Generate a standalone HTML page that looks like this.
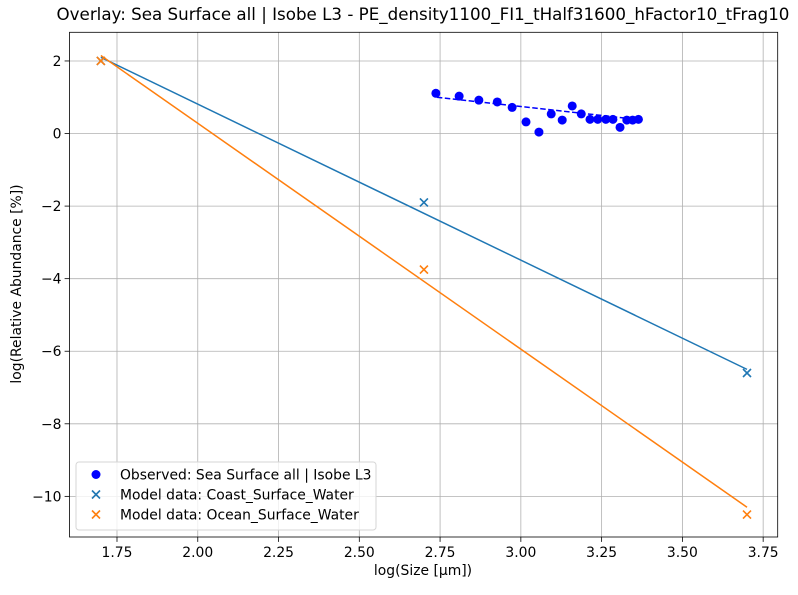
<!DOCTYPE html>
<html><head><meta charset="utf-8"><style>
body{margin:0;background:#fff}
svg text{font-family:"DejaVu Sans","Liberation Sans",sans-serif;fill:#000}
.t{font-family:"DejaVu Sans","Liberation Sans",sans-serif}
</style></head><body>
<svg id="c" width="798" height="590" xmlns="http://www.w3.org/2000/svg"></svg>
<script>
const obsX=[2.737,2.809,2.870,2.927,2.973,3.016,3.056,3.094,3.128,3.159,3.187,3.214,3.238,3.263,3.285,3.307,3.328,3.346,3.364];
const obsY=[1.11,1.03,0.92,0.87,0.72,0.32,0.04,0.54,0.37,0.76,0.54,0.39,0.39,0.39,0.39,0.17,0.37,0.37,0.39];
const obsFitX=[2.74,3.37];
const obsFitY=[1.0,0.38];
const modelX=[1.7,2.7,3.7];
const coastY=[2.0,-1.9,-6.6];
const oceanY=[2.0,-3.75,-10.5];
const coastFitY=[2.1,-6.5];
const oceanFitY=[2.15,-10.3];
const fitX=[1.7,3.7];
const xTicks=[1.75,2.00,2.25,2.50,2.75,3.00,3.25,3.50,3.75];
const xTickLabels=["1.75","2.00","2.25","2.50","2.75","3.00","3.25","3.50","3.75"];
const yTicks=[2,0,-2,-4,-6,-8,-10];
const yTickLabels=["2","0","−2","−4","−6","−8","−10"];

const L=69.5,R=777.7,T=32.3,B=537;
const xmin=1.603,xmax=3.795,ymin=-11.12,ymax=2.79;
const sx=v=>L+(v-xmin)/(xmax-xmin)*(R-L);
const sy=v=>B-(v-ymin)/(ymax-ymin)*(B-T);
const svg=document.getElementById('c');
const NS='http://www.w3.org/2000/svg';
function mk(tag,attrs,parent){const e=document.createElementNS(NS,tag);for(const k in attrs)e.setAttribute(k,attrs[k]);(parent||svg).appendChild(e);return e;}

const grid=mk('g',{});


xTicks.forEach(t=>{mk('line',{x1:sx(t),x2:sx(t),y1:T,y2:B,stroke:'#b0b0b0','stroke-width':0.8},grid);});
yTicks.forEach(t=>{mk('line',{x1:L,x2:R,y1:sy(t),y2:sy(t),stroke:'#b0b0b0','stroke-width':0.8},grid);});

const xax=mk('g',{});


xTicks.forEach((t,i)=>{mk('line',{x1:sx(t),x2:sx(t),y1:B,y2:B+4.9,stroke:'#000','stroke-width':0.8},xax);
 const tx=mk('text',{x:sx(t),y:B+20,'font-size':13.9,'text-anchor':'middle'},xax);tx.textContent=xTickLabels[i];});
const yax=mk('g',{});


yTicks.forEach((t,i)=>{mk('line',{x1:L-4.9,x2:L,y1:sy(t),y2:sy(t),stroke:'#000','stroke-width':0.8},yax);
 const tx=mk('text',{x:L-8,y:sy(t)+5,'font-size':13.9,'text-anchor':'end'},yax);tx.textContent=yTickLabels[i];});

const clip=mk('clipPath',{id:'pc'});mk('rect',{x:L,y:T,width:R-L,height:B-T},clip);
const plot=mk('g',{'clip-path':'url(#pc)'});



const cf=mk('line',{x1:sx(fitX[0]),y1:sy(coastFitY[0]),x2:sx(fitX[1]),y2:sy(coastFitY[1]),stroke:'#1f77b4','stroke-width':1.5},plot);


const of=mk('line',{x1:sx(fitX[0]),y1:sy(oceanFitY[0]),x2:sx(fitX[1]),y2:sy(oceanFitY[1]),stroke:'#ff7f0e','stroke-width':1.5},plot);



obsX.forEach((x,i)=>{const c=mk('circle',{cx:sx(x),cy:sy(obsY[i]),r:4.5,fill:'#0000ff'},plot);
 
 });
const ofl=mk('line',{x1:sx(obsFitX[0]),y1:sy(obsFitY[0]),x2:sx(obsFitX[1]),y2:sy(obsFitY[1]),stroke:'#0000ff','stroke-width':1.5,'stroke-dasharray':'5.5,2.5'},plot);



function cross(x,y,col,p){const g=mk('g',{stroke:col,'stroke-width':1.6},p);
 mk('line',{x1:x-4,y1:y-4,x2:x+4,y2:y+4},g);mk('line',{x1:x-4,y1:y+4,x2:x+4,y2:y-4},g);return g;}
modelX.forEach((x,i)=>{const g=cross(sx(x),sy(coastY[i]),'#1f77b4',plot);
 
 });
modelX.forEach((x,i)=>{const g=cross(sx(x),sy(oceanY[i]),'#ff7f0e',plot);
 
 });

const fr=mk('rect',{x:L,y:T,width:R-L,height:B-T,fill:'none',stroke:'#000','stroke-width':0.8});



const lg=mk('g',{});


mk('rect',{x:76,y:462,width:300,height:68,rx:3,fill:'#fff','fill-opacity':0.8,stroke:'#d6d6d6'},lg);
mk('circle',{cx:96,cy:474.5,r:4.5,fill:'#0000ff'},lg);
cross(96,494.5,'#1f77b4',lg);cross(96,514.5,'#ff7f0e',lg);
[["Observed: Sea Surface all | Isobe L3",474.5],["Model data: Coast_Surface_Water",494.5],["Model data: Ocean_Surface_Water",514.5]].forEach(([t,y])=>{
 const tx=mk('text',{x:120,y:y+5,'font-size':13.9},lg);tx.textContent=t;});
</script>
<div class="t" style="position:absolute;left:0;top:4px;width:846px;text-align:center;font-size:16.7px;line-height:20px;white-space:nowrap">Overlay: Sea Surface all | Isobe L3 - PE_density1100_FI1_tHalf31600_hFactor10_tFrag10</div>
<div class="t" style="position:absolute;left:0;top:563px;width:846px;text-align:center;font-size:13.9px;line-height:17px">log(Size [µm])</div>
<div class="t" style="position:absolute;left:17px;top:284px;transform:translate(-50%,-50%) rotate(-90deg);white-space:nowrap;font-size:13.9px">log(Relative Abundance [%])</div>
</body></html>
